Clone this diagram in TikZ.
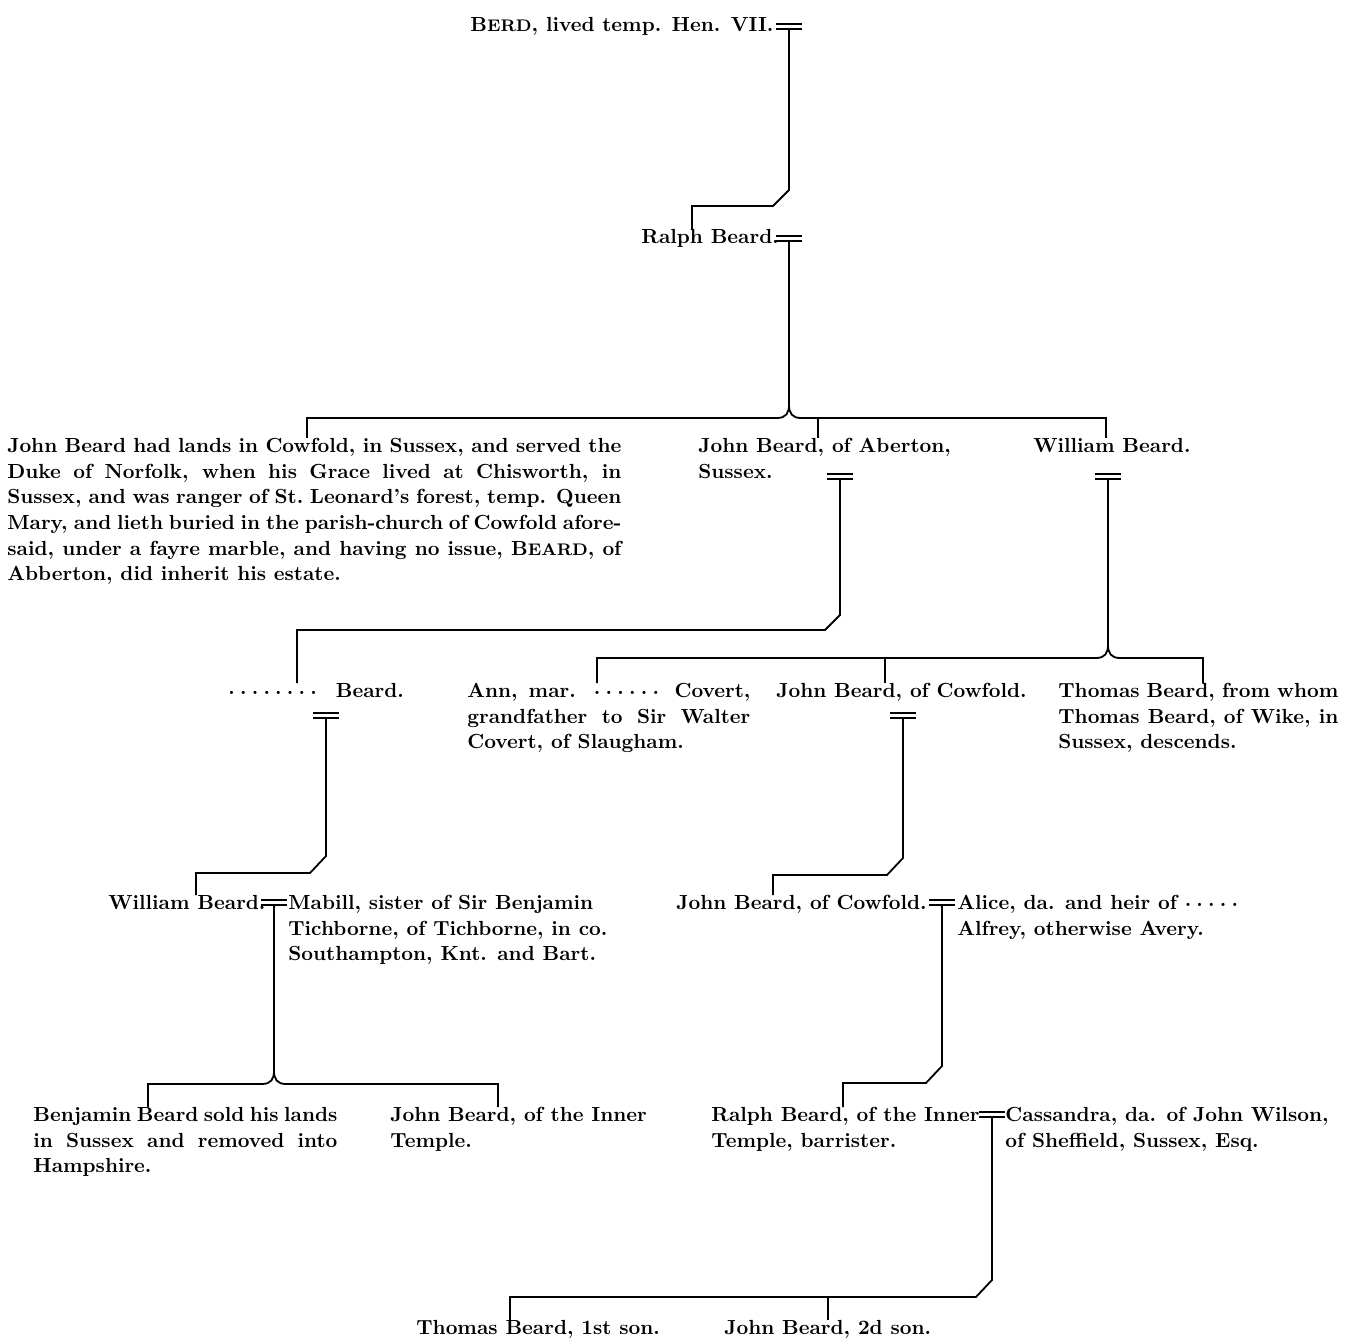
\documentclass[tikz,border=0pt]{standalone}
\usepackage{xcolor}
\usepackage{tikz}

\newcommand{\capname}[2]{#1{\fontsize{8.4}{9}\selectfont #2}}
\newcommand{\unk}[1]{\foreach \i in {1,...,#1}{\raisebox{.35ex}{.}\hspace{2.6pt}}}
\newcommand{\wed}[1]{\draw[line width=0.7pt] (#1) ++(-13,-5) -- ++(26,0) (#1) ++(-13,0) -- ++(26,0);}

\begin{document}
\begin{tikzpicture}[x=0.5pt, y=-0.5pt,
    person/.style={anchor=north west, inner sep=0pt, align=left, font=\fontsize{10.2}{12.8}\selectfont\bfseries},
    note/.style={person, align=justify},
    line/.style={line width=0.9pt}
    ]
    \useasboundingbox (0,0) rectangle (1349,1342);

    % first generations
    \node[person] (berd) at (470,17) {\capname{B}{ERD}, lived temp. Hen. VII.};
    \coordinate (w0) at (789,29);
    \wed{w0}
    \node[person] (ralph) at (641,229) {Ralph Beard.};
    \coordinate (w1) at (789,241);
    \wed{w1}
    \coordinate (c0) at (692,229);
    \draw[line] (w0) -- (789,190) -- (773,206) -| (c0);

    % children of Ralph
    \node[note, text width=307pt] (cowfoldjohn) at (7,438) {John Beard had lands in Cowfold, in Sussex, and served the\linebreak
      Duke of Norfolk, when his Grace lived at Chisworth, in\linebreak
      Sussex, and was ranger of St.~Leonard's forest, temp. Queen\linebreak
      Mary, and lieth buried in the parish-church of Cowfold afore-\linebreak
      said, under a fayre marble, and having no issue, \capname{B}{EARD}, of\linebreak
      Abberton, did inherit his estate.};
    \node[person] (aberton) at (698,438) {John Beard, of Aberton,\\Sussex.};
    \node[person] (william) at (1033,438) {William Beard.};
    \coordinate (c1) at (307,438);
    \coordinate (c2) at (818,438);
    \coordinate (c3) at (1106,438);
    \draw[line] (w1) -- (789,405) .. controls (789,413) and (786,418) .. (777,418) -| (c1);
    \draw[line] (789,405) .. controls (789,413) and (792,418) .. (801,418) -| (c3);
    \draw[line] (818,418) -- (c2);
    \coordinate (w2) at (840,479);
    \wed{w2}
    \coordinate (w3) at (1108,479);
    \wed{w3}

    % grandchildren
    \node[person] (beard) at (228,683) {\unk{8}\hspace{3pt} Beard.};
    \node[note, text width=141.5pt] (ann) at (467,683) {Ann, mar. \unk{6} Covert,\linebreak
      grandfather to Sir Walter\linebreak
      Covert, of Slaugham.};
    \node[person] (johncow) at (776,683) {John Beard, of Cowfold.};
    \node[note, text width=140pt] (thomas) at (1058,683) {Thomas Beard, from whom\linebreak
      Thomas Beard, of Wike, in\linebreak
      Sussex, descends.};
    \coordinate (c4) at (297,683);
    \coordinate (c5) at (597,683);
    \coordinate (c6) at (885,683);
    \coordinate (c7) at (1203,683);
    \draw[line] (w2) -- (840,615) -- (825,630) -| (c4);
    \draw[line] (w3) -- (1108,645) .. controls (1108,653) and (1105,658) .. (1096,658) -| (c5);
    \draw[line] (1108,645) .. controls (1108,653) and (1111,658) .. (1120,658) -| (c7);
    \draw[line] (885,658) -- (c6);
    \coordinate (w4) at (326,718);
    \wed{w4}
    \coordinate (w5) at (903,718);
    \wed{w5}

    % next generation
    \node[person] (william2) at (108,895) {William Beard.};
    \node[person] (mabill) at (288,895) {Mabill, sister of Sir Benjamin\\Tichborne, of Tichborne, in co.\\Southampton, Knt. and Bart.};
    \node[person] (johncow2) at (676,895) {John Beard, of Cowfold.};
    \node[person] (alice) at (957,895) {Alice, da. and heir of \unk{5}\\Alfrey, otherwise Avery.};
    \coordinate (c8) at (196,895);
    \coordinate (c9) at (773,895);
    \draw[line] (w4) -- (326,856) -- (310,873) -| (c8);
    \draw[line] (w5) -- (903,858) -- (887,875) -| (c9);
    \coordinate (w6) at (274,905);
    \wed{w6}
    \coordinate (w7) at (942,905);
    \wed{w7}

    \node[note, text width=152pt] (benjamin) at (33,1107) {Benjamin Beard sold his lands\linebreak
      in Sussex and removed into\linebreak
      Hampshire.};
    \node[person] (inner) at (390,1107) {John Beard, of the Inner\\Temple.};
    \node[person] (ralph2) at (711,1107) {Ralph Beard, of the Inner\\Temple, barrister.};
    \node[person] (cassandra) at (1005,1107) {Cassandra, da. of John Wilson,\\of Sheffield, Sussex, Esq.};
    \coordinate (c10) at (148,1107);
    \coordinate (c11) at (498,1107);
    \coordinate (c12) at (843,1107);
    \draw[line] (w6) -- (274,1071) .. controls (274,1079) and (271,1084) .. (262,1084) -| (c10);
    \draw[line] (274,1071) .. controls (274,1079) and (277,1084) .. (286,1084) -| (c11);
    \draw[line] (w7) -- (942,1066) -- (926,1083) -| (c12);
    \coordinate (w8) at (992,1117);
    \wed{w8}

    % sons of Ralph
    \node[person] (thomas2) at (416,1320) {Thomas Beard, 1st son.};
    \node[person] (john2) at (724,1320) {John Beard, 2d son.};
    \coordinate (c13) at (510,1320);
    \coordinate (c14) at (828,1320);
    \draw[line] (w8) -- (992,1280) -- (976,1297) -| (c13);
    \draw[line] (828,1297) -- (c14);
  \end{tikzpicture}
\end{document}
